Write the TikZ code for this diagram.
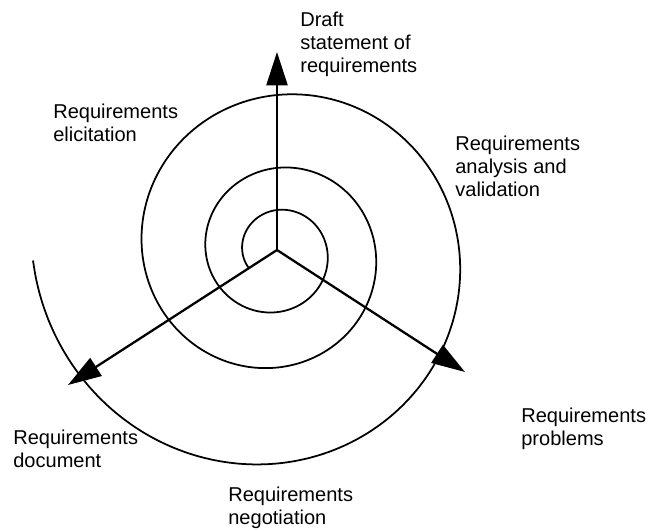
\documentclass[tikz,border=0pt]{standalone}
\usepackage{fontspec}
\setmainfont{Liberation Sans}
\usetikzlibrary{arrows.meta}
\tikzstyle{spoke} = [draw,line width=1.3pt,-{Triangle[length=19pt,width=12pt]}]
\tikzstyle{curl} = [draw,line width=1pt,line join=round]
\tikzstyle{lbl} = [inner sep=0,anchor=north west,align=left,font=\fontsize{11.4}{13.1}\selectfont]

\begin{document}
\begin{tikzpicture}
    \useasboundingbox (-5.54,-5.62) rectangle (7.50,5.00);

    \coordinate (hub) at (0,0);
    \coordinate (draft) at (0,3.96);
    \coordinate (doc) at (-4.18,-2.70);
    \coordinate (prob) at (3.76,-2.44);

    \node[lbl] (Dr) at (0.46,4.76) {Draft\\statement of\\requirements};
    \node[lbl] (El) at (-4.48,2.92) {Requirements\\elicitation};
    \node[lbl] (An) at (3.56,2.28) {Requirements\\analysis and\\validation};
    \node[lbl] (Pr) at (4.88,-3.16) {Requirements\\problems};
    \node[lbl] (Do) at (-5.28,-3.60) {Requirements\\document};
    \node[lbl] (Ne) at (-0.98,-4.74) {Requirements\\negotiation};

    \draw[spoke] (hub) -- (draft);
    \draw[spoke] (hub) -- (doc);
    \draw[spoke] (hub) -- (prob);

    % the spiral, inside out (clockwise)
    \draw[curl,shift={(0,-0.04)}] plot[domain=-121:988,samples=300,smooth,variable=\p]
        ({90-\p}:{-0.31+1.15*exp(0.0015211*\p)});
\end{tikzpicture}
\end{document}
